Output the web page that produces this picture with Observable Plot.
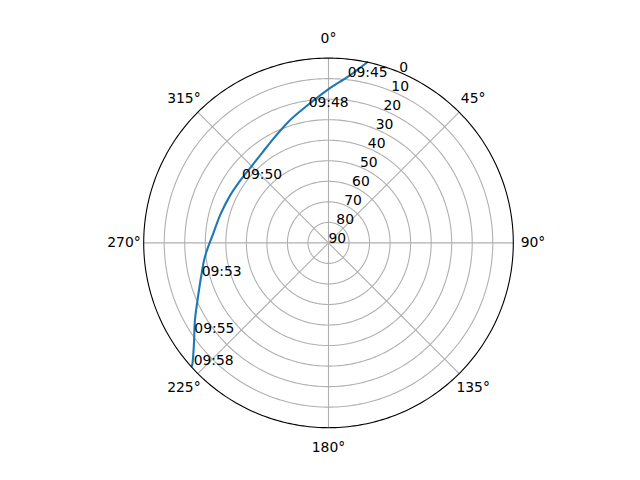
<!DOCTYPE html>
<html>
<head>
<meta charset="utf-8">
<script src="https://cdn.jsdelivr.net/npm/d3@7"></script>
<script src="https://cdn.jsdelivr.net/npm/@observablehq/plot@0.6"></script>
<style>
  html, body { margin: 0; padding: 0; background: white; }
</style>
</head>
<body>
<div id="chart"></div>
<script>
// Satellite sky track: azimuth (deg, clockwise from north) and elevation (deg)
const trackAz = [12.1, 6.9, 359.9, 351.2, 342.3, 333.5, 323.6, 315.0, 305.8, 295.5, 284.9, 274.4, 263.5, 255.1, 246.4, 239.9, 233.3, 228.4, 228.0];
const trackEl = [0.0, 8.2, 15.2, 22.3, 27.5, 32.0, 35.5, 37.1, 37.4, 36.8, 35.6, 33.6, 29.4, 25.8, 20.4, 14.8, 8.3, 1.4, 0.5];

// Time annotations along the track
const labelTimes = ["09:45", "09:48", "09:50", "09:53", "09:55", "09:58"];
const labelAz = [6.6, 351.7, 306.6, 255.5, 236.1, 227.9];
const labelEl = [8.9, 23.0, 37.6, 26.2, 11.3, 1.5];

// Axis ticks
const thetaTicks = [0, 45, 90, 135, 180, 225, 270, 315];
const thetaTickLabels = ["0°", "45°", "90°", "135°", "180°", "225°", "270°", "315°"];
const radialTicks = [0, 10, 20, 30, 40, 50, 60, 70, 80, 90];
const radialTickLabels = ["0", "10", "20", "30", "40", "50", "60", "70", "80", "90"];
const ringTicks = [10, 20, 30, 40, 50, 60, 70, 80];

const lon = az => 180 - az;
const track = trackAz.map((az, i) => ({lon: lon(az), el: trackEl[i]}));
const labels = labelTimes.map((t, i) => ({t, lon: lon(labelAz[i]), el: labelEl[i]}));
const thetaLab = thetaTicks.map((a, i) => ({lon: lon(a) + 1e-6, label: thetaTickLabels[i]}));
const radialLab = radialTicks.map((r, i) => ({r, label: radialTickLabels[i]}));
const ring = el => d3.geoCircle().center([0, 90]).radius(90 - el).precision(1)();

const chart = Plot.plot({
  width: 640,
  height: 480,
  marginLeft: 143.2,
  marginRight: 127.2,
  marginTop: 57.6,
  marginBottom: 52.8,
  projection: {
    type: "azimuthal-equidistant",
    rotate: [0, -90],
    domain: ring(0),
    clip: false
  },
  style: {fontFamily: "DejaVu Sans", fontSize: "13.9px", background: "white", color: "black"},
  marks: [
    Plot.geo(ringTicks, {geometry: el => ring(el), stroke: "#b0b0b0", strokeWidth: 1.1, fill: "none"}),
    Plot.link(thetaTicks, {x1: a => lon(a), y1: () => 90, x2: a => lon(a), y2: () => 0, stroke: "#b0b0b0", strokeWidth: 1.1}),
    Plot.line(track, {x: "lon", y: "el", stroke: "#1f77b4", strokeWidth: 2.1, curve: "catmull-rom"}),
    Plot.geo([0], {geometry: () => ring(0), stroke: "black", strokeWidth: 1.1, fill: "none"}),
    Plot.text(labels, {x: "lon", y: "el", text: "t", textAnchor: "start", lineAnchor: "bottom", fill: "black"}),
    Plot.text(radialLab, {x: () => lon(22.5), y: "r", text: "label", textAnchor: "start", lineAnchor: "bottom", fill: "black"}),
    Plot.text(thetaLab, {x: "lon", y: () => -9.6, text: "label", textAnchor: "middle", lineAnchor: "middle", fill: "black"})
  ]
});
document.getElementById("chart").appendChild(chart);
</script>
</body>
</html>
